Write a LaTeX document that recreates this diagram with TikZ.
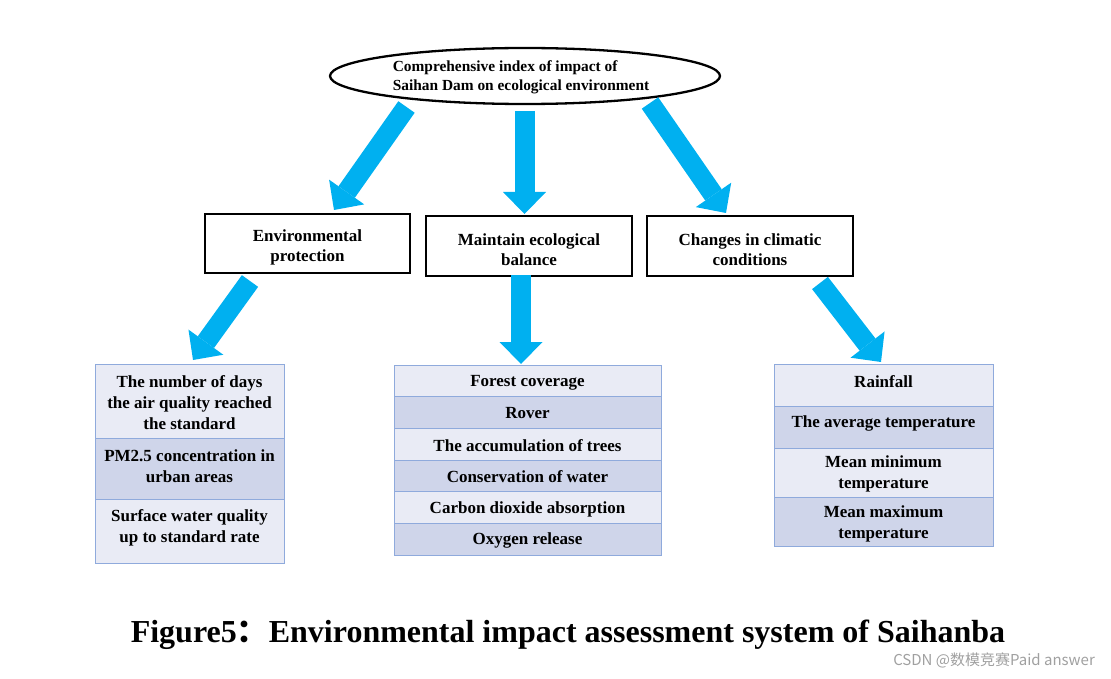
\documentclass[tikz,border=0pt]{standalone}
\usepackage{fontspec}
\setmainfont{Liberation Serif}
\newfontfamily\cjk{Noto Sans CJK SC}
\usetikzlibrary{shapes.geometric,arrows.meta}
\definecolor{arrowblue}{HTML}{00B0F0}
\definecolor{rowlight}{HTML}{E9EBF5}
\definecolor{rowdark}{HTML}{CFD5EA}
\definecolor{rowborder}{HTML}{8FAADC}
\definecolor{wmgray}{HTML}{A0A0A0}
\begin{document}
\begin{tikzpicture}[x=1pt,y=-1pt,
  bigarrow/.style={draw=arrowblue, line width=20pt, line cap=butt,
    -{Triangle[width=43pt,length=22pt,line width=0pt]}},
  catbox/.style={draw=black, line width=2.5pt, fill=white, inner sep=0pt,
    minimum width=206pt, minimum height=60pt},
  rowl/.style={draw=rowborder, line width=1pt, fill=rowlight, inner sep=0pt},
  rowd/.style={draw=rowborder, line width=1pt, fill=rowdark, inner sep=0pt},
  txt/.style={font=\bfseries\fontsize{17}{21}\selectfont, align=center, inner sep=0pt},
  cattxt/.style={font=\bfseries\fontsize{17}{20.5}\selectfont, align=center, inner sep=0pt},
]
\useasboundingbox (0,0) rectangle (1111,679);

% root ellipse
\node[draw=black, line width=2.3pt, ellipse, minimum width=390pt, minimum height=56pt,
  inner sep=0pt] (root) at (525,76) {};
\node[font=\bfseries\fontsize{15.4}{18.5}\selectfont, align=left, inner sep=0pt]
  (roottxt) at (521,77.5) {Comprehensive index of impact of\\Saihan Dam on ecological environment};

% level 2 boxes
\node[catbox, minimum width=205pt, minimum height=59pt] (env) at (307.5,243.5) {};
\node[catbox] (eco) at (529,246) {};
\node[catbox] (cli) at (750,246) {};
\node[cattxt] (envt) at (307.5,247.5) {Environmental\\protection};
\node[cattxt] (ecot) at (529,249.5) {Maintain ecological\\balance};
\node[cattxt] (clit) at (750,249.5) {Changes in climatic\\conditions};

% arrow coordinates
\coordinate (a1s) at (406.5,107);
\coordinate (a1e) at (334,210);
\coordinate (a2s) at (524.5,111);
\coordinate (a2e) at (524.5,214);
\coordinate (a3s) at (650,103);
\coordinate (a3e) at (726,213);
\coordinate (a4s) at (250,281);
\coordinate (a4e) at (193,360);
\coordinate (a5s) at (521,275);
\coordinate (a5e) at (521,364);
\coordinate (a6s) at (820,283);
\coordinate (a6e) at (881,362);

\draw[bigarrow] (a1s) -- (a1e);
\draw[bigarrow] (a2s) -- (a2e);
\draw[bigarrow] (a3s) -- (a3e);
\draw[bigarrow] (a4s) -- (a4e);
\draw[bigarrow] (a5s) -- (a5e);
\draw[bigarrow] (a6s) -- (a6e);

% list 1
\node[rowl, minimum width=189pt, minimum height=74pt] (l1a) at (189.5,401) {};
\node[rowd, minimum width=189pt, minimum height=61pt] (l1b) at (189.5,468.5) {};
\node[rowl, minimum width=189pt, minimum height=64pt] (l1c) at (189.5,531) {};
\node[txt] (t1a) at (189.5,403) {The number of days\\the air quality reached\\the standard};
\node[txt] (t1b) at (189.5,466) {PM2.5 concentration in\\urban areas};
\node[txt] (t1c) at (189.5,527.5) {Surface water quality\\up to standard rate};

% list 2
\node[rowl, minimum width=267pt, minimum height=31.7pt] (l2a) at (527.5,381) {};
\node[rowd, minimum width=267pt, minimum height=31.7pt] (l2b) at (527.5,412.7) {};
\node[rowl, minimum width=267pt, minimum height=31.7pt] (l2c) at (527.5,444.3) {};
\node[rowd, minimum width=267pt, minimum height=31.7pt] (l2d) at (527.5,476) {};
\node[rowl, minimum width=267pt, minimum height=31.7pt] (l2e) at (527.5,507.7) {};
\node[rowd, minimum width=267pt, minimum height=31.7pt] (l2f) at (527.5,539.3) {};
\node[txt] (t2a) at (527.5,382.5) {Forest coverage};
\node[txt] (t2b) at (527.5,413.5) {Rover};
\node[txt] (t2c) at (527.5,445.5) {The accumulation of trees};
\node[txt] (t2d) at (527.5,477) {Conservation of water};
\node[txt] (t2e) at (527.5,509) {Carbon dioxide absorption};
\node[txt] (t2f) at (527.5,540.5) {Oxygen release};

% list 3
\node[rowl, minimum width=219pt, minimum height=42pt] (l3a) at (883.5,385) {};
\node[rowd, minimum width=219pt, minimum height=42pt] (l3b) at (883.5,427) {};
\node[rowl, minimum width=219pt, minimum height=49pt] (l3c) at (883.5,472.5) {};
\node[rowd, minimum width=219pt, minimum height=49pt] (l3d) at (883.5,521.5) {};
\node[txt] (t3a) at (883.5,381.5) {Rainfall};
\node[txt] (t3b) at (883.5,423.5) {The average temperature};
\node[txt] (t3c) at (883.5,474) {Mean minimum\\temperature};
\node[txt] (t3d) at (883.5,524) {Mean maximum\\temperature};

% caption
\node[inner sep=0pt, font=\bfseries\fontsize{32}{38}\selectfont] (cap) at (568,635)
  {Figure5{\cjk ：}Environmental impact assessment system of Saihanba};

% watermark
\node[inner sep=0pt, anchor=east, text=wmgray, font=\cjk\fontsize{15}{18}\selectfont] (wm) at (1095,660)
  {CSDN @数模竞赛Paid answer};
\end{tikzpicture}
\end{document}
